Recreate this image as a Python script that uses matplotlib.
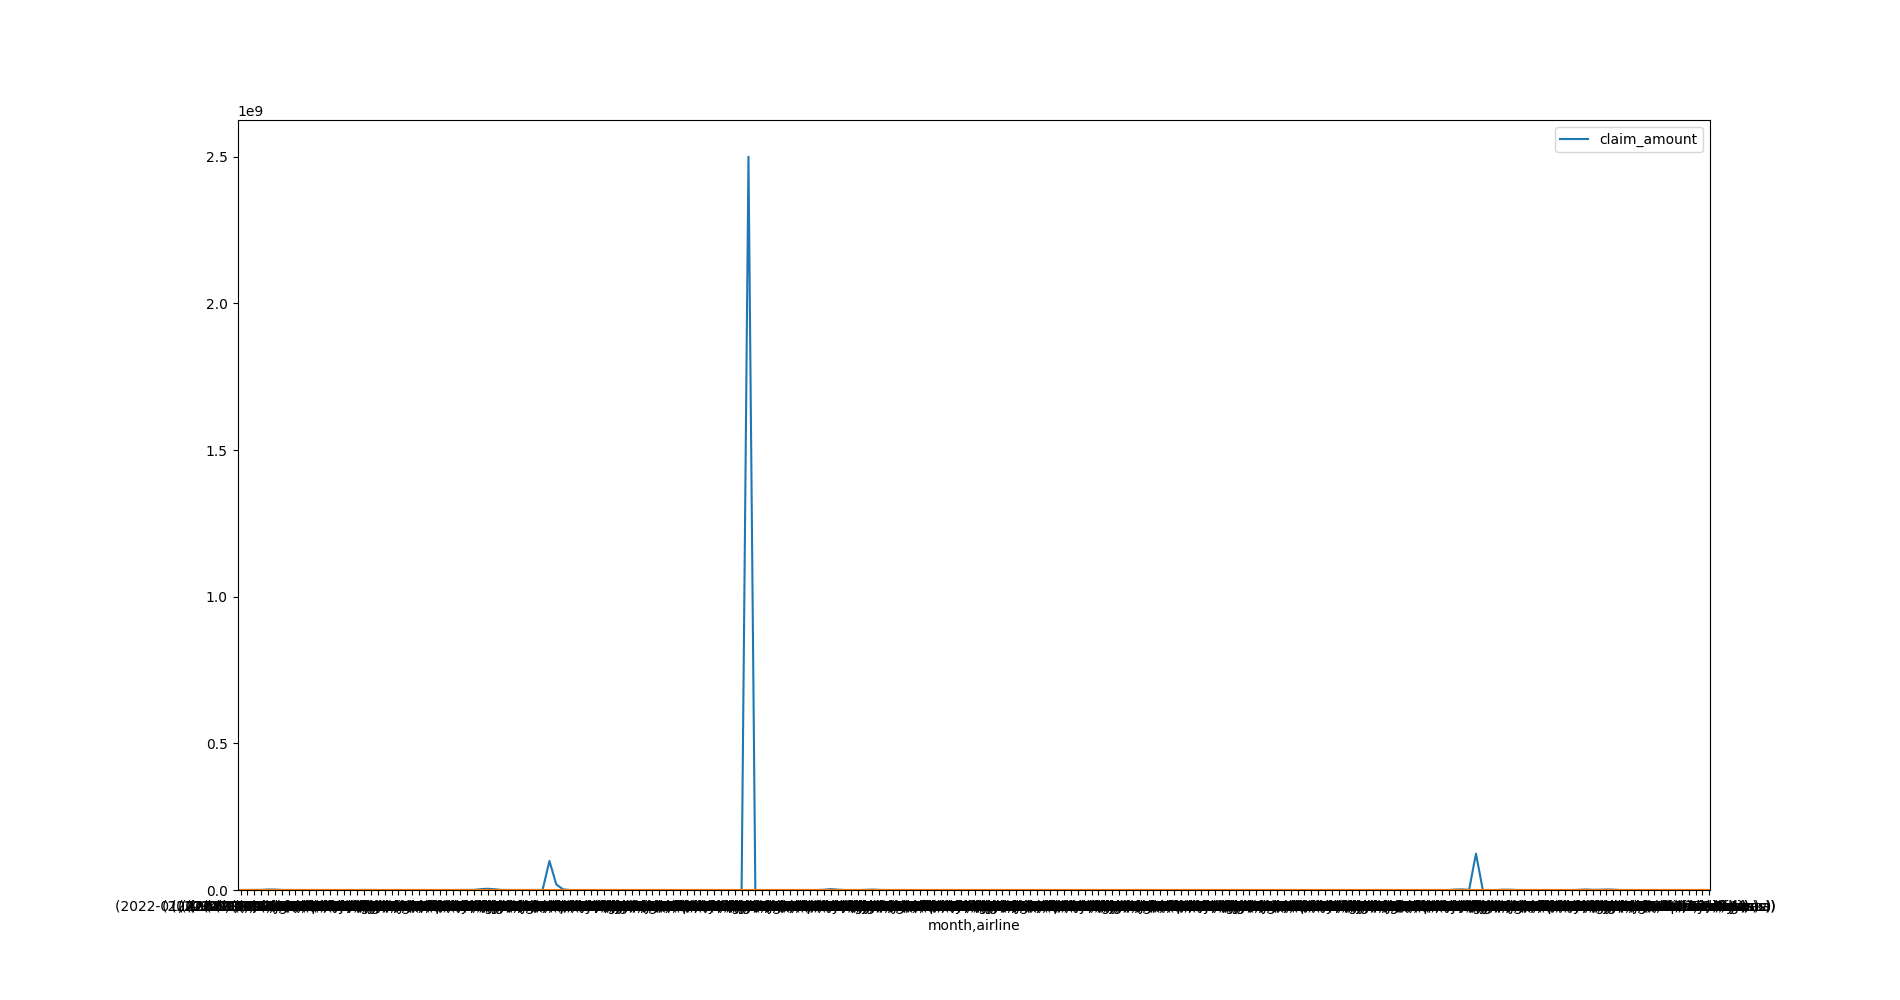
import numpy as np
import matplotlib
matplotlib.use('Agg')
import matplotlib.pyplot as plt

# group keys of the (month, airline) index
months = ['2022-01', '2022-02', '2022-03', '2022-04', '2022-05', '2022-06',
          '2022-07', '2022-08', '2022-09', '2022-10', '2022-11', '2022-12']
month_counts = [18, 18, 18, 18, 18, 18, 18, 18, 18, 18, 18, 17]
airlines = ['Aerolineas Argentinas SA', 'Air Canada', 'Air France', 'American Airlines',
            'British Airways', 'Delta Air Lines', 'Frontier Airlines', 'Hawaiian Airlines',
            'JetBlue Airways', 'Qatar Airways', 'Southwest Airlines', 'Spirit Airlines',
            'United Airlines', 'Emirates', 'KLM', 'Lufthansa',
            'Pegasus', 'Virgin Atlantic']

claim_amount = [
    50000, 120000, 0, 400000, 1600000, 1500000, 300000, 0, 45000, 0, 120000, 0, 60000, 0, 0,
    80000, 0, 0, 250000, 0, 35000, 0, 0, 150000, 0, 0, 90000, 0, 0, 20000,
    0, 0, 110000, 0, 500000, 2800000, 4200000, 2600000, 300000, 0, 0, 75000, 0, 0, 200000,
    99000000, 19000000, 2000000, 0, 0, 60000, 0, 0, 140000, 0, 0, 30000, 0, 0, 0,
    0, 85000, 0, 0, 0, 210000, 0, 0, 0, 40000, 0, 0, 0, 0, 2500000000,
    0, 0, 120000, 0, 0, 0, 55000, 0, 0, 0, 900000, 3100000, 1200000, 0, 0,
    0, 400000, 1400000, 500000, 0, 0, 70000, 0, 0, 0, 0, 160000, 0, 0, 0,
    0, 0, 0, 95000, 0, 0, 0, 0, 0, 220000, 0, 0, 0, 0, 0,
    40000, 0, 0, 0, 0, 0, 130000, 0, 0, 0, 0, 0, 0, 65000, 0,
    0, 0, 0, 0, 180000, 0, 0, 0, 0, 0, 25000, 0, 0, 0, 0,
    0, 110000, 0, 0, 0, 0, 0, 0, 75000, 0, 0, 0, 0, 0, 300000,
    0, 0, 0, 50000, 0, 0, 0, 0, 0, 0, 140000, 0, 1500000, 2000000, 400000,
    124000000, 0, 0, 0, 1200000, 900000, 0, 0, 0, 0, 85000, 0, 0, 0, 0,
    600000, 1800000, 700000, 900000, 1700000, 1300000, 0, 0, 45000, 0, 0, 0, 120000, 0, 0,
    0, 0, 35000, 0, 0,
]

labels = []
for month, count in zip(months, month_counts):
    for airline in airlines[:count]:
        labels.append('({}, {})'.format(month, airline))

x = np.arange(len(claim_amount))

fig, ax = plt.subplots(figsize=(19, 10), dpi=100)
ax.plot(x, claim_amount, label='claim_amount')
ax.axhline(0, color='C1')
ax.set_xlim(-0.45, len(x) - 1 + 0.1)
ax.set_xticks(x)
ax.set_xticklabels(labels)
ax.set_xlabel('month,airline')
ax.set_ylim(bottom=0)
ax.legend(loc='upper right')

fig.savefig('out.png')
